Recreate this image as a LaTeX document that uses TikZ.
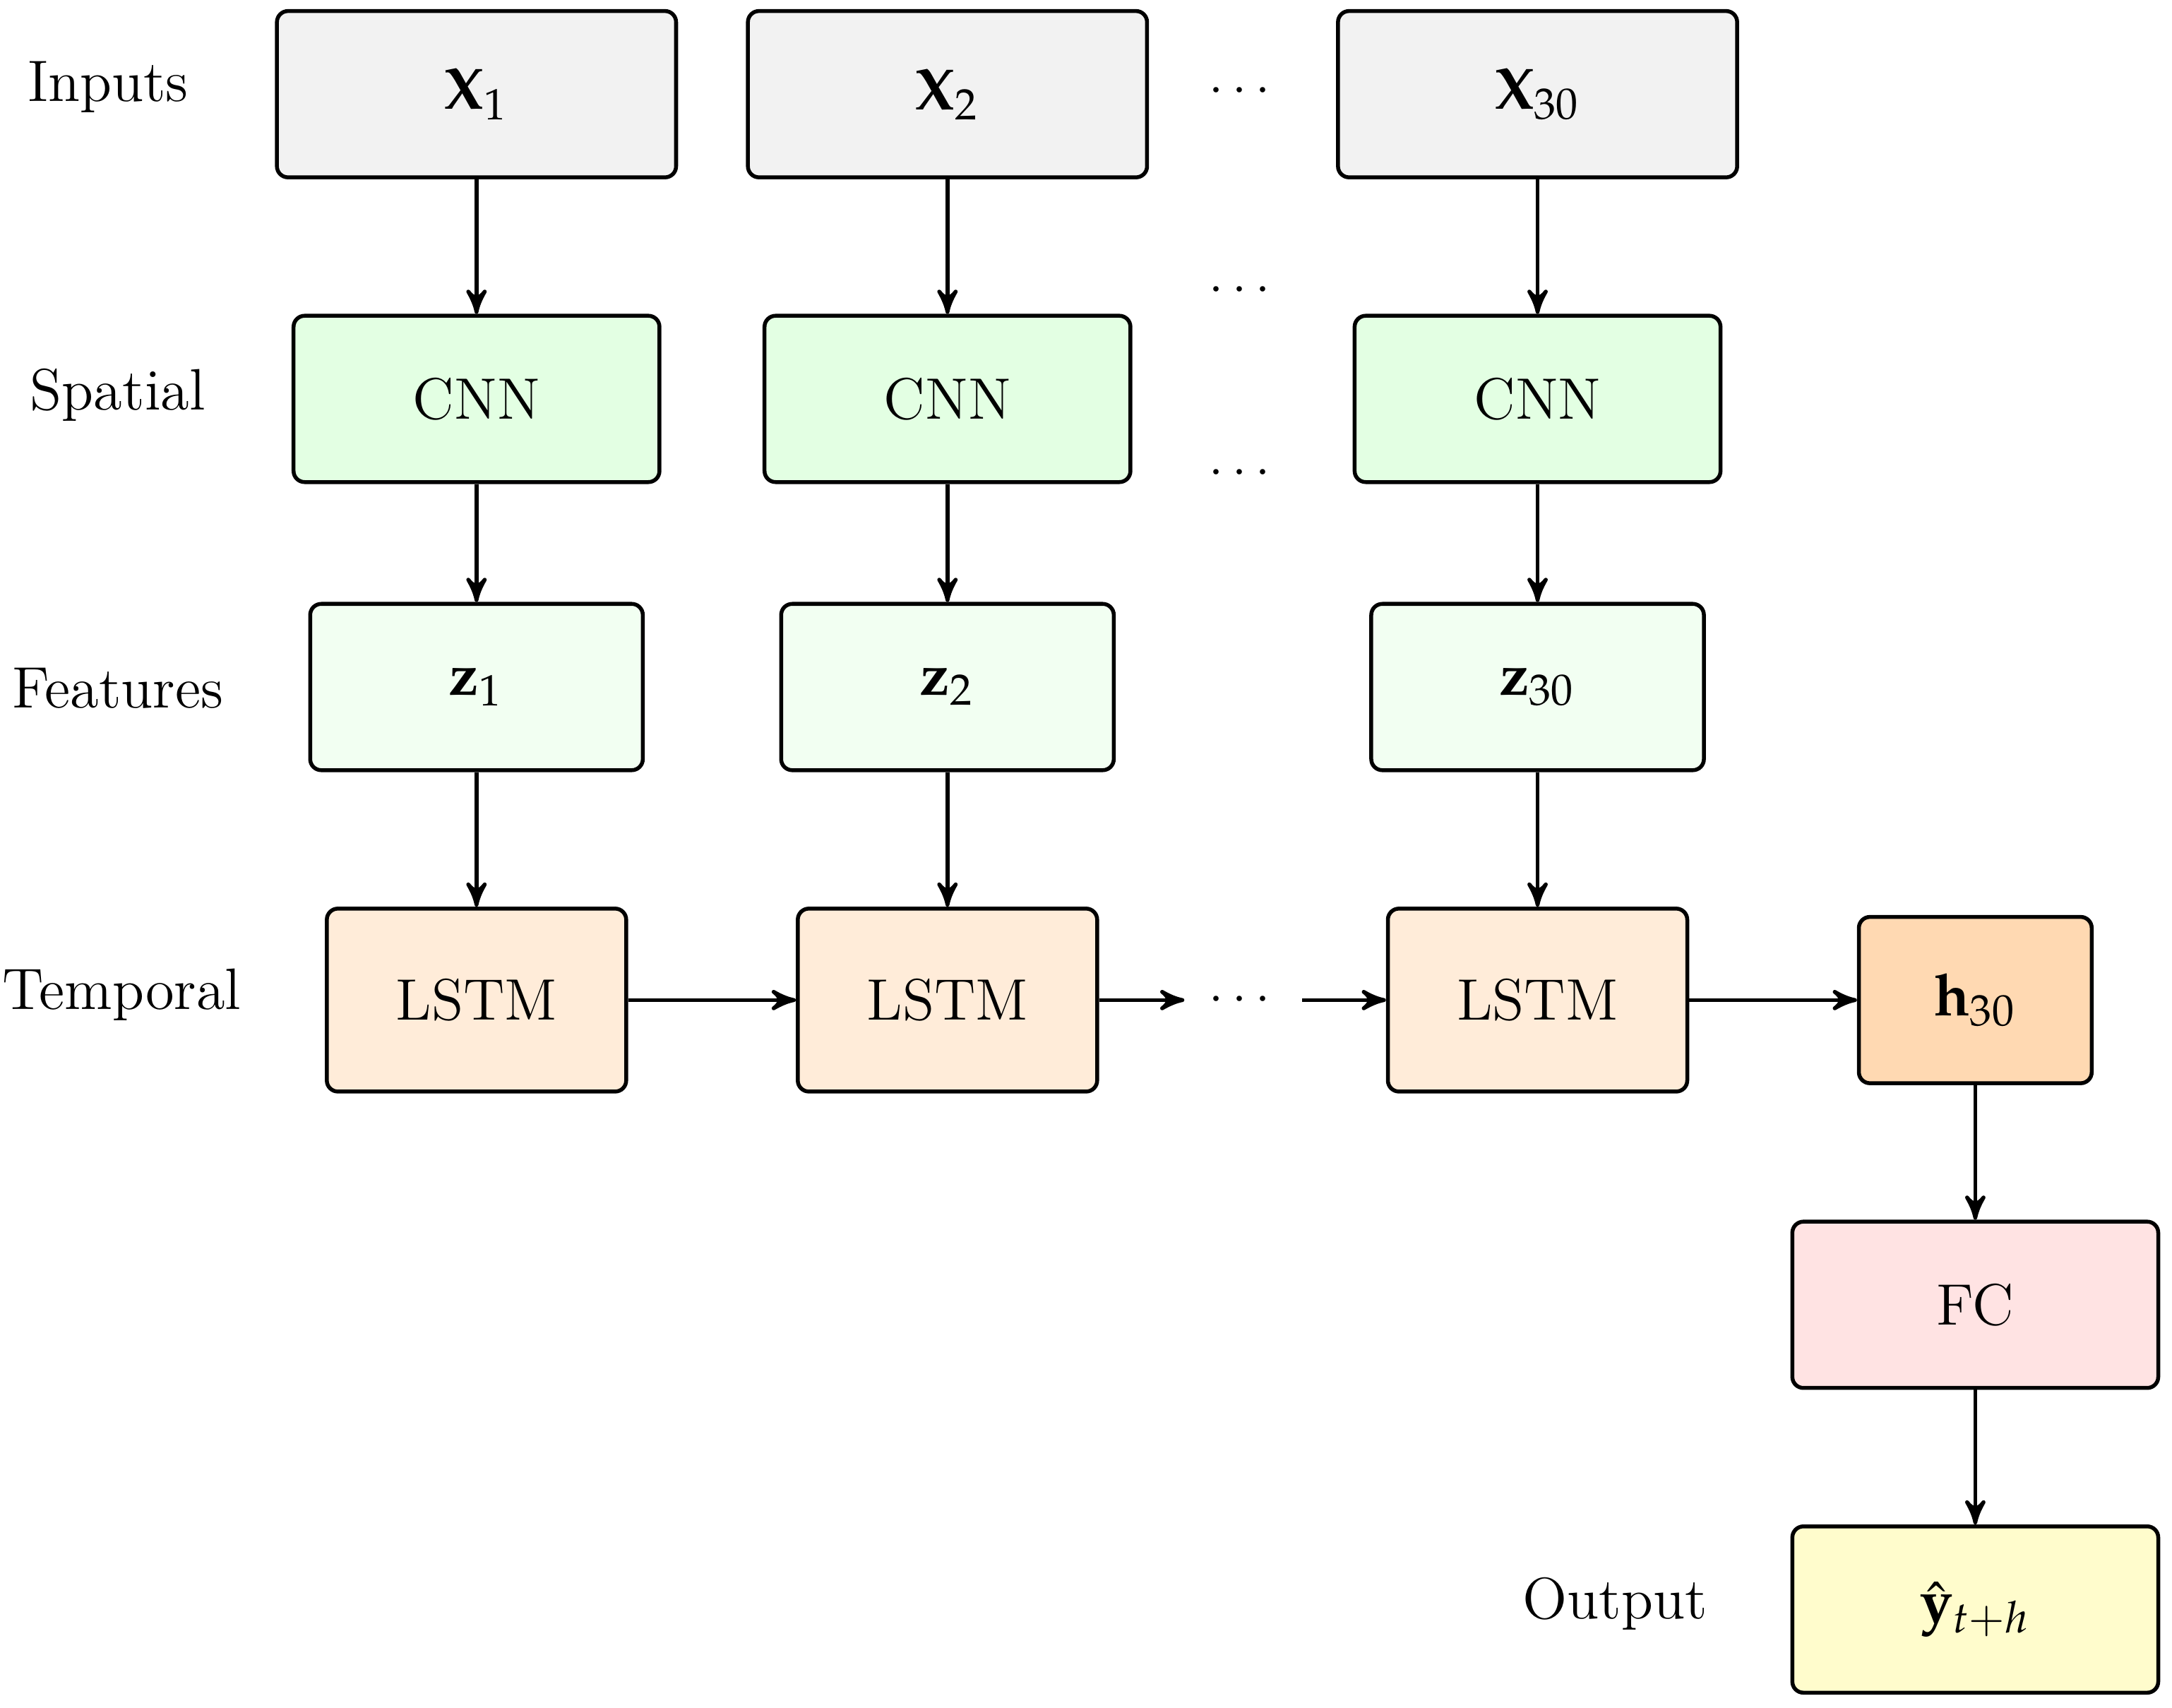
\documentclass[tikz,border=0pt]{standalone}
\usepackage{mathpazo}
\usepackage{bm}
\usetikzlibrary{arrows}

\begin{document}
\begin{tikzpicture}[x=0.01cm,y=-0.01cm,>=stealth',thick,
                box/.style={rectangle,draw,rounded corners=0.08cm,minimum height=1.2cm,font=\large},
                in node/.style={box,fill=gray!10,minimum width=2.88cm},
                cnn node/.style={box,fill=green!11,minimum width=2.64cm},
                feat node/.style={box,fill=green!5,minimum width=2.4cm},
                lstm node/.style={box,fill=orange!15,minimum width=2.16cm,minimum height=1.32cm},
                row label/.style={font=\large\bfseries}]
                \useasboundingbox (0,0) rectangle (1568,1233);
                % row labels
                \node[row label] (linputs) at (78,63) {Inputs};
                \node[row label] (lspatial) at (85,285) {Spatial};
                \node[row label] (lfeat) at (85,497) {Features};
                \node[row label] (ltemp) at (88,718) {Temporal};
                \node[row label] (lout) at (1166,1158) {Output};
                % columns
                \foreach \i/\x/\t in {1/344/1,2/684/2,3/1110/30} {
                  \node[in node] (x\i) at (\x,68) {$\mathbf{X}_{\t}$};
                  \node[cnn node] (c\i) at (\x,288) {CNN};
                  \node[feat node] (z\i) at (\x,496) {$\mathbf{z}_{\t}$};
                  \node[lstm node] (l\i) at (\x,722) {LSTM};
                  \draw[->] (x\i) -- (c\i);
                  \draw[->] (c\i) -- (z\i);
                  \draw[->] (z\i) -- (l\i);
                }
                \node[box,fill=orange!30,minimum width=1.68cm] (h) at (1426,722) {$\mathbf{h}_{30}$};
                \node[box,fill=red!11,minimum width=2.64cm] (fc) at (1426,942) {FC};
                \node[box,fill=yellow!20,minimum width=2.64cm] (y) at (1426,1162) {$\hat{\mathbf{y}}_{t+h}$};
                % dots
                \node (d1) at (895,66) {$\cdots$};
                \node (d2) at (895,210) {$\cdots$};
                \node (d3) at (895,342) {$\cdots$};
                \node (d4) at (895,722) {$\cdots$};
                \coordinate (a) at (855,722);
                \coordinate (b) at (940,722);
                \draw[->] (l1) -- (l2);
                \draw[->] (l2) -- (a);
                \draw[->] (b) -- (l3);
                \draw[->] (l3) -- (h);
                \draw[->] (h) -- (fc);
                \draw[->] (fc) -- (y);
\end{tikzpicture}
\end{document}
